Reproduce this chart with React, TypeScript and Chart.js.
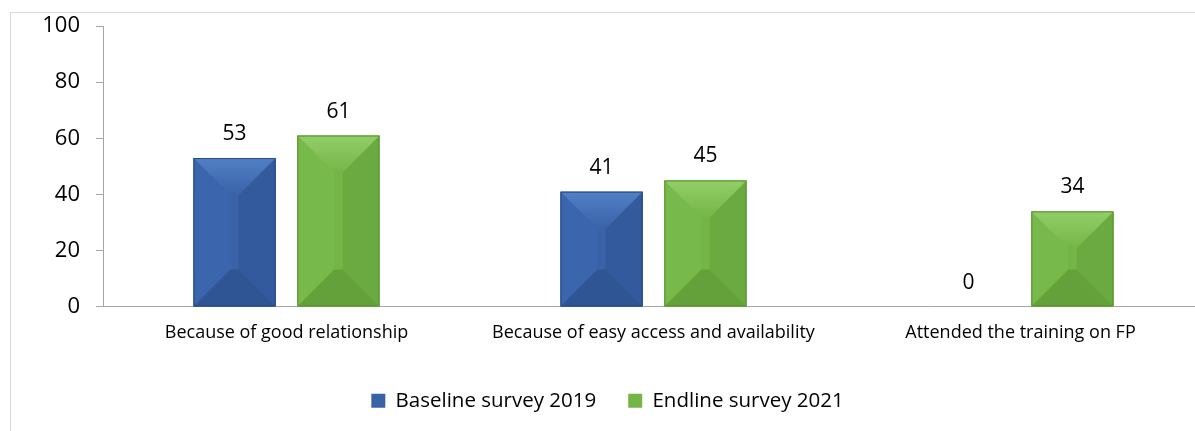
import React, { useEffect, useRef } from "react";
import { Chart, registerables } from "chart.js";

Chart.register(...registerables);

const categories = [
  "Because of good relationship",
  "Because of easy access and availability",
  "Attended the training on FP",
];
const baseline2019 = [53, 41, 0];
const endline2021 = [61, 45, 34];
const seriesNames = ["Baseline survey 2019", "Endline survey 2021"];
const yTickStep = 20;
const yMin = 0;
const yMax = 100;

const FONT = "'Open Sans', sans-serif";

const palettes = [
  { main: "#3A62A8", top: "#5280C4", left: "#3B65AC", right: "#325A9C", bottom: "#2F5594", edge: "#2A4C88" },
  { main: "#75B548", top: "#93CE68", left: "#78B94B", right: "#6BAA40", bottom: "#64A13B", edge: "#5A9334" },
];

const bevelPlugin = {
  id: "bevelAndLabels",
  afterDatasetsDraw(chart: any) {
    const ctx = chart.ctx;
    chart.data.datasets.forEach((ds: any, di: number) => {
      const meta = chart.getDatasetMeta(di);
      const pal = palettes[di];
      meta.data.forEach((el: any, i: number) => {
        const { x, y, base, width } = el.getProps(["x", "y", "base", "width"], true);
        const L = x - width / 2;
        const R = x + width / 2;
        const T = Math.min(y, base);
        const B = Math.max(y, base);
        const h = B - T;
        if (h >= 1) {
          const d = Math.min(width * 0.45, h / 2);
          const poly = (pts: number[][], color: any) => {
            ctx.beginPath();
            ctx.moveTo(pts[0][0], pts[0][1]);
            for (let k = 1; k < pts.length; k++) ctx.lineTo(pts[k][0], pts[k][1]);
            ctx.closePath();
            ctx.fillStyle = color;
            ctx.fill();
          };
          ctx.save();
          ctx.fillStyle = pal.main;
          ctx.fillRect(L, T, width, h);
          poly([[L, T], [L + d, T + d], [L + d, B - d], [L, B]], pal.left);
          poly([[R, T], [R - d, T + d], [R - d, B - d], [R, B]], pal.right);
          poly([[L, B], [R, B], [R - d, B - d], [L + d, B - d]], pal.bottom);
          const g = ctx.createLinearGradient(0, T, 0, T + d);
          g.addColorStop(0, pal.top);
          g.addColorStop(1, pal.main);
          poly([[L, T], [R, T], [R - d, T + d], [L + d, T + d]], g);
          ctx.strokeStyle = pal.edge;
          ctx.lineWidth = 1;
          ctx.strokeRect(L + 0.5, T + 0.5, width - 1, h - 1);
          ctx.restore();
        }
        const v = ds.data[i];
        ctx.save();
        ctx.font = `21px ${FONT}`;
        ctx.fillStyle = "#000";
        ctx.textAlign = "center";
        ctx.textBaseline = "middle";
        ctx.fillText(String(v), x, T - 24);
        ctx.restore();
      });
    });
  },
};

export default function App() {
  const ref = useRef<HTMLCanvasElement | null>(null);

  useEffect(() => {
    if (!ref.current) return;
    const chart = new Chart(ref.current, {
      type: "bar",
      data: {
        labels: categories,
        datasets: [
          {
            label: seriesNames[0],
            data: baseline2019,
            backgroundColor: palettes[0].main,
            borderWidth: 0,
            categoryPercentage: 0.566,
            barPercentage: 0.79,
          },
          {
            label: seriesNames[1],
            data: endline2021,
            backgroundColor: palettes[1].main,
            borderWidth: 0,
            categoryPercentage: 0.566,
            barPercentage: 0.79,
          },
        ],
      },
      options: {
        responsive: false,
        animation: false,
        devicePixelRatio: 1,
        layout: { padding: { top: 1, right: 8, left: 0, bottom: 10 } },
        plugins: {
          legend: {
            position: "bottom",
            labels: {
              boxWidth: 14,
              boxHeight: 14,
              padding: 32,
              color: "#000",
              font: { family: FONT, size: 20.5 },
            },
          },
          tooltip: { enabled: false },
        },
        scales: {
          x: {
            grid: { display: false, drawTicks: false },
            border: { display: true, color: "#A6A6A6", width: 1 },
            ticks: {
              color: "#000",
              font: { family: FONT, size: 18 },
              padding: 15,
              maxRotation: 0,
              autoSkip: false,
            },
          },
          y: {
            min: yMin,
            max: yMax,
            ticks: {
              stepSize: yTickStep,
              color: "#000",
              font: { family: FONT, size: 22 },
              padding: 16,
            },
            grid: {
              drawOnChartArea: false,
              drawTicks: true,
              tickLength: 7,
              color: "#A6A6A6",
            },
            border: { display: true, color: "#A6A6A6", width: 1 },
            afterFit: (s: any) => {
              s.width = 92;
              s.paddingTop = 13;
              s.paddingBottom = 0;
            },
          },
        },
      },
      plugins: [bevelPlugin],
    });
    return () => chart.destroy();
  }, []);

  return (
    <div
      style={{
        position: "fixed",
        left: 0,
        top: 0,
        width: 1195,
        height: 431,
        overflow: "hidden",
        background: "#fff",
      }}
    >
      <div
        style={{
          position: "absolute",
          left: 10,
          top: 12,
          width: 1202,
          height: 419,
          boxSizing: "border-box",
          borderLeft: "1px solid #D9D9D9",
          borderTop: "1px solid #D9D9D9",
        }}
      >
        <canvas ref={ref} width={1201} height={418} style={{ display: "block", width: 1201, height: 418 }} />
      </div>
    </div>
  );
}
